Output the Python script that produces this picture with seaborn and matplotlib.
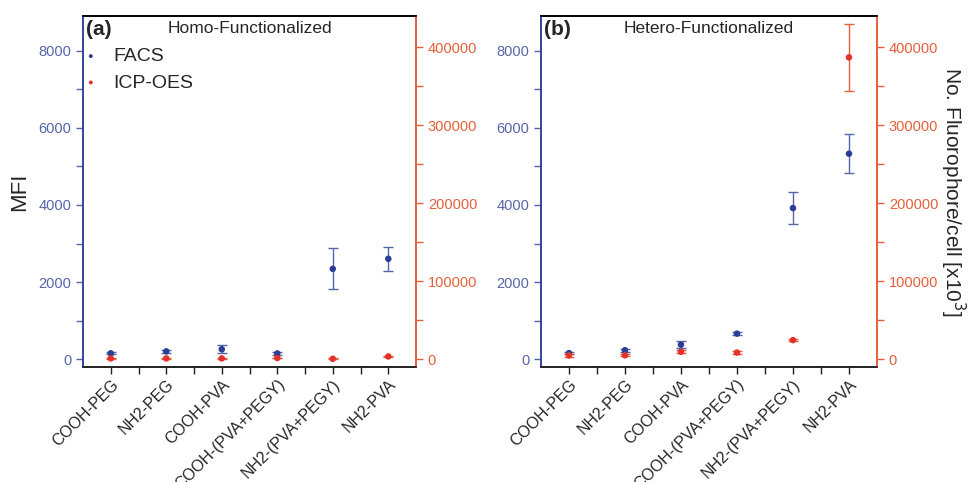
import matplotlib
matplotlib.use("Agg")
import matplotlib.pyplot as plt
from matplotlib.ticker import MultipleLocator
import seaborn as sns
import pandas as pd
import numpy as np

categories = ["COOH-PEG", "NH2-PEG", "COOH-PVA", "COOH-(PVA+PEGY)", "NH2-(PVA+PEGY)", "NH2-PVA"]

# (a) Homo-Functionalized
homo_facs = [155, 205, 260, 150, 2345, 2605]
homo_facs_err = [30, 30, 100, 30, 530, 310]
homo_icp = [1000, 1000, 1000, 1500, 500, 3500]
homo_icp_err = [500, 500, 500, 500, 500, 800]

# (b) Hetero-Functionalized
hetero_facs = [160, 235, 380, 665, 3920, 5330]
hetero_facs_err = [30, 40, 100, 40, 420, 510]
hetero_icp = [4800, 5000, 9500, 8500, 24500, 387000]
hetero_icp_err = [1500, 1500, 2000, 1500, 1500, 43000]

BLUE = "#2b3d96"
BLUE_TXT = "#5566a8"
RED = "#e2322b"
RED_TXT = "#e4603c"

sns.set_style("white")
plt.rcParams["font.family"] = ["Liberation Sans", "DejaVu Sans"]

fig = plt.figure(figsize=(9.7, 4.82), dpi=100)


def draw_panel(rect, tag, title, facs, facs_err, icp, icp_err, legend=False,
               left_label=False, right_label=False):
    ax = fig.add_axes(rect)
    ax2 = ax.twinx()
    df = pd.DataFrame({"cat": categories, "facs": facs, "icp": icp})
    pos = np.arange(len(categories))

    ax.errorbar(pos, facs, yerr=facs_err, fmt="none", ecolor=BLUE_TXT,
                elinewidth=1, capsize=3.5, capthick=1, zorder=2)
    sns.scatterplot(df, x="cat", y="facs", ax=ax, color=BLUE, s=22,
                    edgecolor="none", zorder=3, label="FACS", legend=False)
    ax2.errorbar(pos, icp, yerr=icp_err, fmt="none", ecolor=RED_TXT,
                 elinewidth=1, capsize=3.5, capthick=1, zorder=2)
    sns.scatterplot(df, x="cat", y="icp", ax=ax2, color=RED, s=22,
                    edgecolor="none", zorder=3, label="ICP-OES", legend=False)

    ax.set_xlim(-0.5, 5.5)
    ax.set_ylim(-200, 8900)
    ax2.set_ylim(-10000, 440000)
    ax.set_xlabel("")
    ax.set_ylabel("")
    ax2.set_ylabel("")

    ax.yaxis.set_major_locator(MultipleLocator(2000))
    ax.yaxis.set_minor_locator(MultipleLocator(1000))
    ax2.yaxis.set_major_locator(MultipleLocator(100000))
    ax2.yaxis.set_minor_locator(MultipleLocator(50000))
    ax.set_xticks(pos)
    ax.set_xticks(pos[:-1] + 0.5, minor=True)
    ax.set_xticklabels(categories, rotation=45, ha="right", rotation_mode="anchor",
                       fontsize=11.5)

    ax.tick_params(axis="x", which="both", direction="out", bottom=True,
                   length=5, width=1, color="#222222", pad=2)
    ax.tick_params(axis="y", which="both", direction="out", left=True,
                   length=5, width=1, color=BLUE_TXT, labelcolor=BLUE_TXT,
                   labelsize=10.5)
    ax2.tick_params(axis="y", which="both", direction="out", right=True,
                    length=5, width=1, color=RED_TXT, labelcolor=RED_TXT,
                    labelsize=10.5)

    for a in (ax, ax2):
        a.spines["top"].set_color("black")
        a.spines["bottom"].set_color("#222222")
        a.spines["left"].set_color("#3344a0")
        a.spines["right"].set_color(RED_TXT)
        for s in a.spines.values():
            s.set_linewidth(1.2)

    ax.text(0.01, 0.99, tag, transform=ax.transAxes, ha="left", va="top",
            fontsize=15, fontweight="bold")
    ax.text(0.5, 0.985, title, transform=ax.transAxes, ha="center", va="top",
            fontsize=12.5)

    if legend:
        h1, l1 = ax.get_legend_handles_labels()
        h2, l2 = ax2.get_legend_handles_labels()
        ax2.legend(h1 + h2, l1 + l2, loc="upper left", bbox_to_anchor=(0.0, 0.91),
                   frameon=False, fontsize=14, markerscale=0.6, borderpad=0,
                   borderaxespad=0, handlelength=0.8, handletextpad=0.75,
                   labelspacing=0.45)
    if left_label:
        ax.set_ylabel("MFI", fontsize=16, labelpad=6)
    if right_label:
        ax2.set_ylabel("No. Fluorophore/cell [x10$^3$]", fontsize=15,
                       rotation=270, labelpad=21)
    return ax, ax2


draw_panel([0.0856, 0.2386, 0.3433, 0.7282], "(a)", "Homo-Functionalized",
           homo_facs, homo_facs_err, homo_icp, homo_icp_err,
           legend=True, left_label=True)
draw_panel([0.5577, 0.2386, 0.3464, 0.7282], "(b)", "Hetero-Functionalized",
           hetero_facs, hetero_facs_err, hetero_icp, hetero_icp_err,
           right_label=True)

fig.savefig("out.png", dpi=100)
